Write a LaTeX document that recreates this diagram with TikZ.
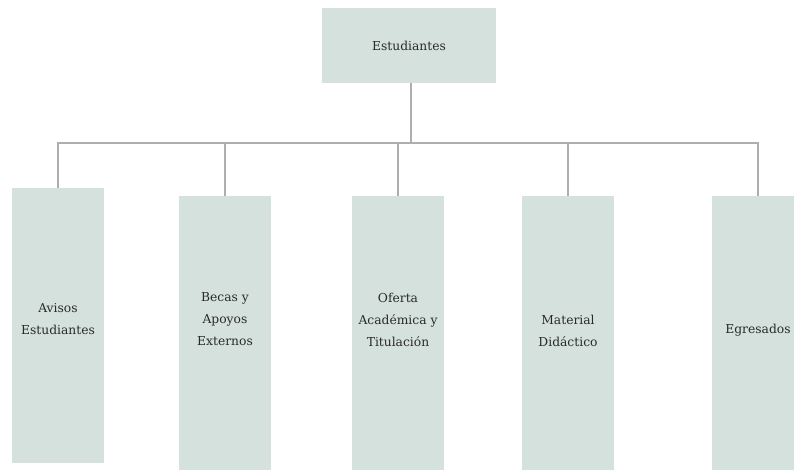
\documentclass[tikz,border=0pt]{standalone}
\usepackage{fontspec}
\setmainfont{DejaVu Serif}
\definecolor{caja}{HTML}{D4E1DD}
\definecolor{linea}{HTML}{AEAEAE}
\definecolor{letra}{HTML}{2A2A2A}
\tikzset{
  hoja/.style={fill=caja, draw=none, minimum width=92pt, inner sep=0pt},
  txt/.style={text=letra, align=center, font=\fontsize{12.3}{22}\selectfont},
  rama/.style={draw=linea, line width=2.6pt}
}
\begin{document}
\begin{tikzpicture}[x=1pt,y=-1pt]
\useasboundingbox (0,0) rectangle (794,470);
\node[hoja, minimum width=174pt, minimum height=75pt, txt] (est) at (409,45.5) {Estudiantes};
\node[hoja, minimum height=275pt, anchor=north] (avisos) at (58,188) {};
\node[hoja, minimum height=280pt, anchor=north] (becas) at (225,196) {};
\node[hoja, minimum height=280pt, anchor=north] (oferta) at (398,196) {};
\node[hoja, minimum height=280pt, anchor=north] (material) at (568,196) {};
\node[hoja, minimum height=280pt, anchor=north] (egresados) at (758,196) {};
\node[txt] at (58,319) {Avisos\\Estudiantes};
\node[txt] at (225,319) {Becas y\\Apoyos\\Externos};
\node[txt] at (398,320) {Oferta\\Académica y\\Titulación};
\node[txt] at (568,331) {Material\\Didáctico};
\node[txt] at (758,330) {Egresados};
% lineas
\coordinate (bus) at (411,143);
\draw[rama] ([xshift=2pt]est.south) -- (bus);
\draw[rama] (avisos.north) |- (bus) -| (egresados.north);
\draw[rama] (becas.north) -- (becas.north |- bus);
\draw[rama] (oferta.north) -- (oferta.north |- bus);
\draw[rama] (material.north) -- (material.north |- bus);
\end{tikzpicture}
\end{document}
